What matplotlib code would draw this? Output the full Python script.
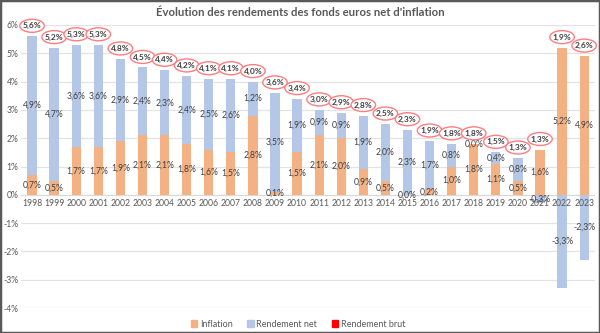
import matplotlib
matplotlib.use("Agg")
import matplotlib.pyplot as plt
from matplotlib.patches import Patch, Rectangle, Ellipse
from matplotlib.transforms import ScaledTranslation
import numpy as np

plt.rcParams['font.family'] = ['Lato', 'DejaVu Sans']

years = [str(y) for y in range(1998, 2024)]
inflation = [0.7, 0.5, 1.7, 1.7, 1.9, 2.1, 2.1, 1.8, 1.6, 1.5, 2.8, 0.1, 1.5,
             2.1, 2.0, 0.9, 0.5, 0.0, 0.2, 1.0, 1.8, 1.1, 0.5, 1.6, 5.2, 4.9]
net = [4.9, 4.7, 3.6, 3.6, 2.9, 2.4, 2.3, 2.4, 2.5, 2.6, 1.2, 3.5, 1.9,
       0.9, 0.9, 1.9, 2.0, 2.3, 1.7, 0.8, 0.0, 0.4, 0.8, -0.3, -3.3, -2.3]
brut = [5.6, 5.2, 5.3, 5.3, 4.8, 4.5, 4.4, 4.2, 4.1, 4.1, 4.0, 3.6, 3.4,
        3.0, 2.9, 2.8, 2.5, 2.3, 1.9, 1.8, 1.8, 1.5, 1.3, 1.3, 1.9, 2.6]
yticks = [-4, -3, -2, -1, 0, 1, 2, 3, 4, 5, 6]

ORANGE = '#F4B183'
BLUE = '#B4C7E7'
RED = '#FF0000'
RING = '#FF7C80'
TXT = '#404040'

def fmt(v):
    return f"{v:.1f}".replace('.', ',') + '%'

fig = plt.figure(figsize=(6, 3.33), dpi=100)
ax = fig.add_axes([0.035, 0.075, 0.957, 0.85])

x = np.arange(len(years))
inf_arr = np.array(inflation)
net_arr = np.array(net)
w = 0.42
for t in yticks:
    if t != 0:
        ax.axhline(t, color='#E3E3E3', lw=0.9, zorder=0)
ax.axhline(0, color='#D9D9D9', lw=0.9, zorder=1)
ax.bar(x, inf_arr, w, color=ORANGE, zorder=2)
net_bottom = np.where(net_arr >= 0, np.maximum(inf_arr, 0), 0)
ax.bar(x, net_arr, w, bottom=net_bottom, color=BLUE, zorder=2)

for i in range(len(years)):
    ax.text(x[i], inf_arr[i] / 2, fmt(inflation[i]), ha='center', va='center',
            fontsize=6.2, color=TXT, zorder=4)
    ax.text(x[i], net_bottom[i] + net_arr[i] / 2, fmt(net[i]), ha='center', va='center',
            fontsize=6.2, color=TXT, zorder=4)
    top = max(inf_arr[i], 0) + max(net_arr[i], 0)
    tr = fig.dpi_scale_trans + ScaledTranslation(x[i], top, ax.transData)
    ax.add_patch(Ellipse((0, 0.105), 0.245, 0.13, transform=tr, fc='white',
                         ec=RING, lw=1.0, zorder=5, clip_on=False))
    ax.annotate(fmt(brut[i]), (x[i], top), xytext=(0, 7.5), textcoords='offset points',
                ha='center', va='center', fontsize=6.0, fontweight='bold', color=TXT,
                zorder=6)

ax.set_xlim(-0.5, len(years) - 0.5)
ax.set_ylim(-4, 6)
ax.set_yticks(yticks)
ax.set_yticklabels([f"{t}%" for t in yticks])
ax.set_xticks(x)
ax.set_xticklabels(years)
ax.tick_params(axis='both', length=0, labelsize=6.2, colors='#595959', pad=3)
ax.tick_params(axis='y', pad=2)
for s in ['top', 'right', 'left']:
    ax.spines[s].set_visible(False)
ax.spines['bottom'].set_position(('data', 0))
ax.spines['bottom'].set_visible(False)
ax.xaxis.set_zorder(6)

fig.text(0.5, 0.962, "Évolution des rendements des fonds euros net d'inflation",
         ha='center', va='center', fontsize=8.2, fontweight='bold', color='#595959')

handles = [Patch(color=ORANGE, label='Inflation'),
           Patch(color=BLUE, label='Rendement net'),
           Patch(color=RED, label='Rendement brut')]
fig.legend(handles=handles, loc='center', bbox_to_anchor=(0.497, 0.027), ncol=3,
           frameon=False, fontsize=6.5, handlelength=0.7, handleheight=0.7,
           handletextpad=0.3, columnspacing=1.6, labelcolor='#595959')

fig.patches.append(Rectangle((0, 0), 1, 1, transform=fig.transFigure, fill=False,
                             ec='#595959', lw=2.5, zorder=10))

fig.savefig('out.png', dpi=100)
